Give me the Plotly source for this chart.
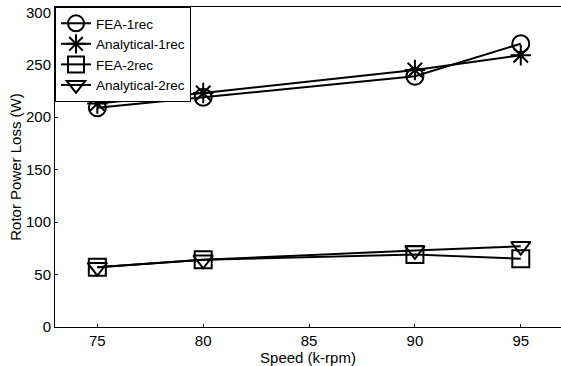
import plotly.graph_objects as go

speed = [75, 80, 90, 95]
fea_1rec = [209, 219, 239, 270]
analytical_1rec = [213, 223, 245, 259]
fea_2rec = [57, 64, 69, 65]
analytical_2rec = [57, 64, 73, 77]

series = [
    ("FEA-1rec", fea_1rec, "circle-open"),
    ("Analytical-1rec", analytical_1rec, "asterisk-open"),
    ("FEA-2rec", fea_2rec, "square-open"),
    ("Analytical-2rec", analytical_2rec, "triangle-down-open"),
]

fig = go.Figure()
for name, vals, sym in series:
    fig.add_trace(go.Scatter(
        x=speed, y=vals, name=name, mode="lines+markers",
        line=dict(color="black", width=2),
        marker=dict(symbol=sym, size=17, color="black", line=dict(width=2, color="black")),
    ))

font = "Liberation Sans, Arial, sans-serif"
fig.update_layout(
    width=561, height=366,
    margin=dict(l=55, r=0, t=7, b=39),
    paper_bgcolor="white", plot_bgcolor="white",
    font=dict(family=font, size=15, color="black"),
    showlegend=True,
    legend=dict(x=0, y=1, xanchor="left", yanchor="top",
                bordercolor="black", borderwidth=1, bgcolor="white",
                font=dict(size=13.5, color="black"), tracegroupgap=0, itemwidth=30),
)
fig.update_xaxes(range=[73, 96.9], tickvals=[75, 80, 85, 90, 95],
                 title=dict(text="Speed (k-rpm)", standoff=2, font=dict(color="black", size=15)),
                 tickfont=dict(color="black", size=15),
                 showline=True, linecolor="black", linewidth=1, mirror=True,
                 ticks="inside", ticklen=3, tickcolor="black", showgrid=False, zeroline=False)
fig.update_yaxes(range=[0, 305], tickvals=[0, 50, 100, 150, 200, 250, 300],
                 title=dict(text="Rotor Power Loss (W)", standoff=0, font=dict(color="black", size=15)),
                 tickfont=dict(color="black", size=15),
                 showline=True, linecolor="black", linewidth=1, mirror=True,
                 ticks="inside", ticklen=3, tickcolor="black", showgrid=False, zeroline=False)

fig.write_html("out.html", config={"displayModeBar": False},
               post_script="document.body.style.margin='0';document.body.style.overflow='hidden';")
